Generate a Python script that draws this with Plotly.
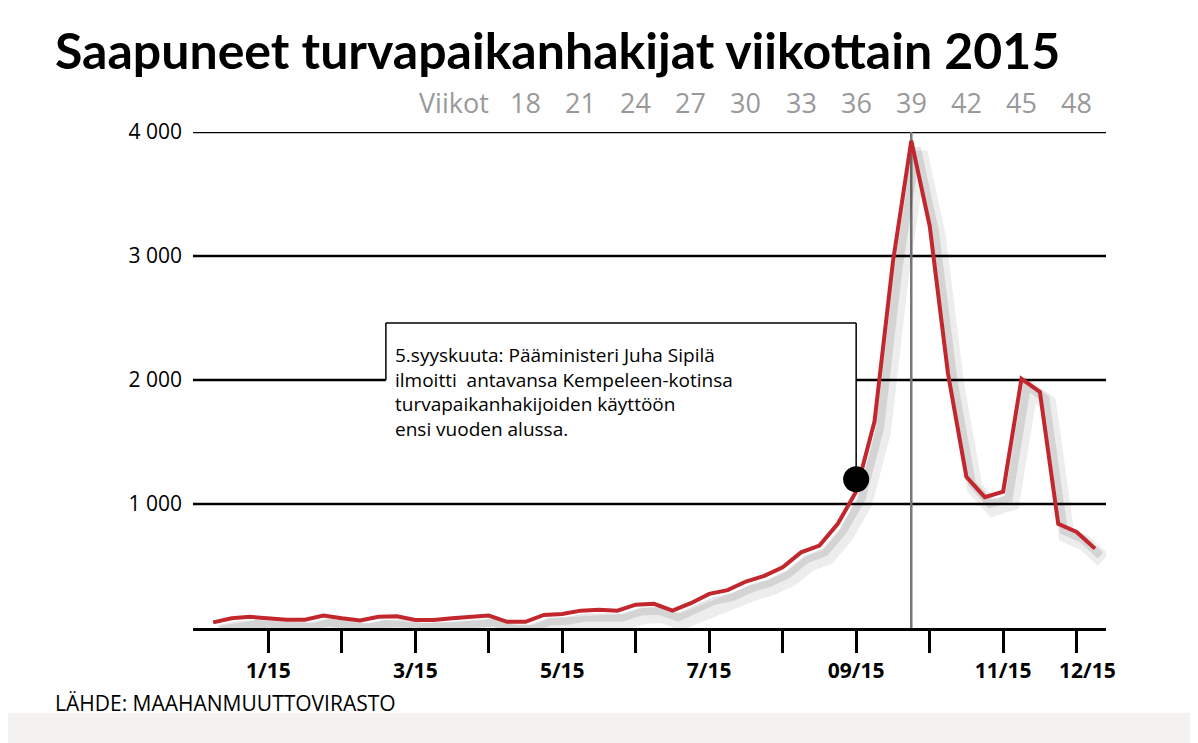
import plotly.graph_objects as go

weeks = list(range(1, 50))
arrivals = [45, 78, 90, 78, 67, 67, 100, 78, 60, 90, 94, 65, 65, 78, 90, 100, 50, 50,
            105, 113, 140, 148, 140, 188, 195, 140, 200, 275, 305, 375, 420, 490, 610,
            665, 840, 1100, 1667, 2950, 3930, 3245, 2050, 1220, 1055, 1100, 2010, 1905,
            840, 775, 640]
month_ticks = [4, 8, 12, 16, 20, 24, 28, 32, 36, 40, 44, 48]
month_labels = ["1/15", "", "3/15", "", "5/15", "", "7/15", "", "09/15", "", "11/15", ""]
week_labels = [18, 21, 24, 27, 30, 33, 36, 39, 42, 45, 48]
y_ticks = [1000, 2000, 3000, 4000]
y_labels = ["1 000", "2 000", "3 000", "4 000"]
event_week = 36
event_value = 1200
peak_week = 39

fig = go.Figure()
# soft shadow under the line
fig.add_trace(go.Scatter(x=[w + 0.45 for w in weeks], y=[v - 90 for v in arrivals],
                         mode="lines", line=dict(color="rgba(0,0,0,0.07)", width=16),
                         hoverinfo="skip"))
fig.add_trace(go.Scatter(x=[w + 0.3 for w in weeks], y=[v - 55 for v in arrivals],
                         mode="lines", line=dict(color="rgba(0,0,0,0.10)", width=8),
                         hoverinfo="skip"))
fig.add_trace(go.Scatter(x=weeks, y=arrivals, mode="lines",
                         line=dict(color="#c1272d", width=4)))
fig.add_trace(go.Scatter(x=[event_week], y=[event_value], mode="markers",
                         marker=dict(color="black", size=26)))

for v in y_ticks:
    fig.add_shape(type="line", xref="x", yref="y", x0=-0.1, x1=49.6, y0=v, y1=v,
                  line=dict(color="black", width=2.5), layer="below")
fig.add_shape(type="line", xref="x", yref="y", x0=peak_week, x1=peak_week, y0=0, y1=4000,
              line=dict(color="#777", width=2.5), layer="below")
# callout box
fig.add_shape(type="rect", xref="x", yref="y", x0=10.4, x1=event_week, y0=1600, y1=2460,
              fillcolor="white", line=dict(width=0))
fig.add_shape(type="line", xref="x", yref="y", x0=10.4, x1=event_week, y0=2460, y1=2460,
              line=dict(color="black", width=1.5))
fig.add_shape(type="line", xref="x", yref="y", x0=10.4, x1=10.4, y0=2460, y1=2000,
              line=dict(color="black", width=1.5))
fig.add_shape(type="line", xref="x", yref="y", x0=event_week, x1=event_week, y0=2460, y1=event_value,
              line=dict(color="black", width=1.5))
fig.add_annotation(x=10.8, y=2320, xref="x", yref="y", xanchor="left", yanchor="top",
                   align="left", showarrow=False,
                   text="5.syyskuuta: Pääministeri Juha Sipilä<br>ilmoitti  antavansa Kempeleen-kotinsa"
                        "<br>turvapaikanhakijoiden käyttöön<br>ensi vuoden alussa.",
                   font=dict(family="Open Sans", size=19, color="black"))

for w in week_labels:
    fig.add_annotation(x=w, y=4000, xref="x", yref="y", yshift=30, showarrow=False,
                       text=str(w), font=dict(family="Open Sans", size=27, color="#999"))
fig.add_annotation(x=16.1, y=4000, xref="x", yref="y", yshift=30, xanchor="right",
                   showarrow=False, text="Viikot",
                   font=dict(family="Open Sans", size=27, color="#999"))
fig.add_annotation(x=1.013, y=0, xref="paper", yref="y", yshift=-42, showarrow=False,
                   text="<b>12/15</b>", font=dict(family="Open Sans", size=21, color="black"))
fig.add_annotation(x=-0.153, y=-0.118, xref="paper", yref="paper", xanchor="left",
                   yanchor="top", showarrow=False, text="LÄHDE: MAAHANMUUTTOVIRASTO",
                   font=dict(family="Open Sans", size=21, color="black"))
fig.add_annotation(x=-0.153, y=1.165, xref="paper", yref="paper", xanchor="left",
                   yanchor="middle", showarrow=False,
                   text="<b>Saapuneet turvapaikanhakijat viikottain 2015</b>",
                   font=dict(family="Lato", size=50, color="black", weight=900))
fig.add_shape(type="rect", xref="paper", yref="paper", x0=-0.3, x1=1.2, y0=-0.34, y1=-0.171,
              fillcolor="#f3f2f0", line=dict(width=0), layer="below")

fig.update_layout(
    width=1198, height=743, showlegend=False,
    plot_bgcolor="white", paper_bgcolor="white",
    margin=dict(l=185, r=100, t=124, b=123, autoexpand=False),
    xaxis=dict(range=[-0.1, 49.6], tickvals=month_ticks,
               ticktext=["<b>%s</b>" % t if t else "" for t in month_labels],
               ticks="outside", ticklen=22, tickwidth=2.5, tickcolor="black",
               showgrid=False, zeroline=False, showline=True, linecolor="black", linewidth=3,
               tickfont=dict(family="Open Sans", size=21, color="black"), fixedrange=True),
    yaxis=dict(range=[0, 4000], tickvals=y_ticks, ticktext=y_labels, showgrid=False,
               zeroline=False, ticks="", ticklabelstandoff=10,
               tickfont=dict(family="Open Sans", size=21, color="black")),
)
fig.write_html("out.html")
